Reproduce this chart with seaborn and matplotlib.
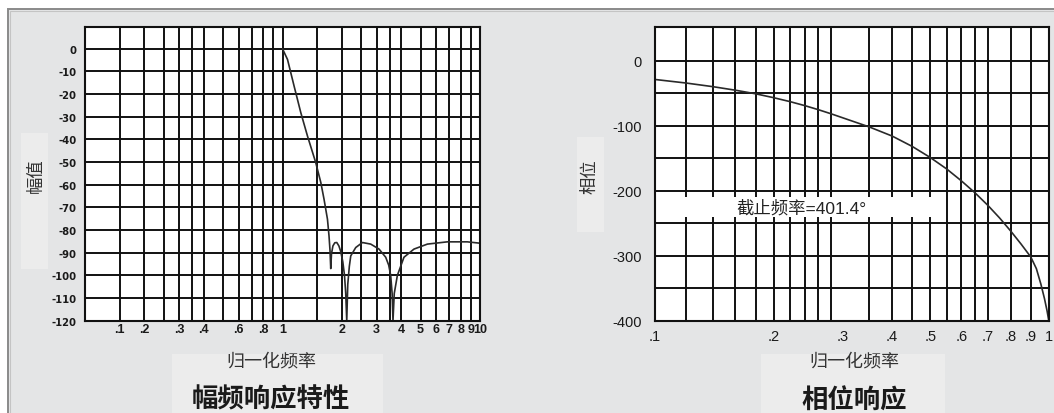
import matplotlib
matplotlib.use("Agg")
import matplotlib.pyplot as plt
import seaborn as sns
from matplotlib import font_manager
from matplotlib.patches import Rectangle
from matplotlib.ticker import NullFormatter

# magnitude response: normalised frequency vs amplitude (dB)
mag_freq = [1.0, 1.06, 1.145, 1.238, 1.338, 1.473, 1.563, 1.623, 1.689, 1.72,
            1.74, 1.755, 1.77, 1.80, 1.84, 1.883, 1.93, 1.972, 2.02, 2.06,
            2.09, 2.115, 2.14, 2.18, 2.216, 2.349, 2.539, 2.797, 3.082, 3.331,
            3.45, 3.53, 3.59, 3.626, 3.68, 3.816, 4.121, 4.631, 5.413, 6.833,
            8.627, 10.0]
mag_db = [0, -4.7, -16.5, -28.2, -38.5, -50.2, -59, -66.4, -75.2, -82.6,
          -89, -97, -90.5, -87, -85.6, -85.5, -87, -89.5, -94, -100,
          -108, -120, -104, -96, -91.4, -87.7, -85.5, -86.2, -88.4, -92,
          -95.5, -100, -108, -120, -108, -100, -92, -88.4, -86.2, -85.2,
          -85.2, -85.8]
mag_ticks = [0.15, 0.2, 0.3, 0.4, 0.6, 0.8, 1, 2, 3, 4, 5, 6, 7, 8, 9, 10]
mag_tick_labels = [".1", ".2", ".3", ".4", ".6", ".8", "1", "2", "3", "4",
                   "5", "6", "7", "8", "9", "10"]
mag_grid = [0.15, 0.2, 0.25, 0.3, 0.35, 0.4, 0.5, 0.6, 0.7, 0.8, 0.9, 1,
            1.5, 2, 2.5, 3, 3.5, 4, 5, 6, 7, 8, 9]
mag_yticks = list(range(-120, 1, 10))

# phase response: normalised frequency vs phase (degrees)
phase_freq = [0.1, 0.12, 0.14, 0.16, 0.18, 0.2, 0.22, 0.24, 0.26, 0.28,
              0.35, 0.4, 0.45, 0.5, 0.55, 0.6, 0.65, 0.7, 0.75, 0.8,
              0.85, 0.9, 0.93, 0.955, 0.975, 0.99, 1.0]
phase_deg = [-29, -34.5, -40, -45.5, -51, -57, -63, -69.2, -75.5, -81.8,
             -102, -116, -132, -149, -166.5, -185, -203.5, -222.5, -242, -262,
             -282, -302, -320, -344, -366, -385, -400]
phase_ticks = [0.1, 0.2, 0.3, 0.4, 0.5, 0.6, 0.7, 0.8, 0.9, 1.0]
phase_tick_labels = [".1", ".2", ".3", ".4", ".5", ".6", ".7", ".8", ".9", "1"]
phase_grid = [0.12, 0.14, 0.16, 0.18, 0.2, 0.22, 0.24, 0.26, 0.28, 0.35,
              0.4, 0.45, 0.5, 0.55, 0.6, 0.65, 0.7, 0.8, 0.9]
phase_yticks = [-400, -300, -200, -100, 0]
phase_ygrid = [-350, -300, -250, -200, -150, -100, -50, 0]
cutoff_label = "截止频率=401.4°"

W, H = 1054, 414
BG = "#e4e5e6"
LIGHT = "#ececec"
INK = "#111111"

sns.set_style("white")
plt.rcParams["font.family"] = ["Liberation Sans", "Noto Sans CJK SC", "DejaVu Sans"]
CJK = ["Noto Sans CJK SC", "DejaVu Sans"]

names = {f.name for f in font_manager.fontManager.ttflist}
if "Liberation Sans Narrow" in names:
    narrow = dict(fontfamily="Liberation Sans Narrow", fontweight="bold", fontsize=9.5)
else:
    narrow = dict(fontfamily="DejaVu Sans", fontweight="bold", fontstretch="condensed", fontsize=8)


def fx(px):
    return px / W


def fy(py):
    return 1 - py / H


def px_rect(x0, y0, x1, y1, **kw):
    return Rectangle((fx(x0), fy(y1)), fx(x1) - fx(x0), fy(y0) - fy(y1),
                     transform=fig.transFigure, **kw)


fig = plt.figure(figsize=(W / 100, H / 100), dpi=100, facecolor="white")

# panel background with its grey border
fig.add_artist(px_rect(7.5, 9.5, W + 20, H + 20, facecolor=BG, edgecolor="#8a8a8a",
                       lw=1.4, zorder=-10))
fig.add_artist(px_rect(10, 12, W + 20, H + 20, facecolor="none", edgecolor="#c4c4c4",
                       lw=0.8, zorder=-9))
# slightly lighter label boxes
for box in [(21, 134, 48, 270), (172, 355, 383, H + 5),
            (577, 138, 604, 233), (761, 355, 945, H + 5)]:
    fig.add_artist(px_rect(*box, facecolor=LIGHT, edgecolor="none", zorder=-8))

ax1 = fig.add_axes([fx(85), fy(321.7), fx(480) - fx(85), fy(27.8) - fy(321.7)])
ax2 = fig.add_axes([fx(655), fy(321.7), fx(1048.8) - fx(655), fy(27.8) - fy(321.7)])

sns.lineplot(x=mag_freq, y=mag_db, ax=ax1, color="#2a2a2a", lw=1.2, estimator=None)
sns.lineplot(x=phase_freq, y=phase_deg, ax=ax2, color="#2a2a2a", lw=1.2, estimator=None)

for ax in (ax1, ax2):
    ax.set_xscale("log")
    ax.set_facecolor("white")
    ax.set_axisbelow(True)
    ax.xaxis.remove_overlapping_locs = False
    ax.yaxis.remove_overlapping_locs = False
    for sp in ax.spines.values():
        sp.set_visible(True)
        sp.set_color(INK)
        sp.set_linewidth(1.5)
    ax.set_xlabel("")
    ax.set_ylabel("")

# magnitude axes
ax1.set_xlim(0.1, 10)
ax1.set_ylim(-120, 9.7)
ax1.set_xticks(mag_grid, minor=True)
ax1.xaxis.set_minor_formatter(NullFormatter())
ax1.set_xticks(mag_ticks, mag_tick_labels, fontsize=9, fontweight="bold", color="#1a1a1a")
ax1.set_yticks(mag_yticks, [str(v) for v in mag_yticks], color="#1a1a1a", **narrow)
ax1.xaxis.grid(True, which="minor", color=INK, lw=1.4)
ax1.yaxis.grid(True, which="major", color=INK, lw=1.4)
ax1.tick_params(axis="x", which="both", length=0, pad=2)
ax1.tick_params(axis="y", which="both", length=0, pad=6)

# phase axes
ax2.set_xlim(0.1, 1.0)
ax2.set_ylim(-400, 52)
ax2.set_xticks(phase_grid, minor=True)
ax2.xaxis.set_minor_formatter(NullFormatter())
ax2.set_xticks(phase_ticks, phase_tick_labels, fontsize=10.5, color="#1a1a1a")
ax2.set_yticks(phase_ygrid, minor=True)
ax2.set_yticks(phase_yticks, [str(v) for v in phase_yticks], fontsize=10.5, color="#1a1a1a")
ax2.xaxis.grid(True, which="minor", color=INK, lw=1.4)
ax2.yaxis.grid(True, which="minor", color=INK, lw=1.4)
ax2.tick_params(axis="x", which="both", length=0, pad=6)
ax2.tick_params(axis="y", which="both", length=0, pad=9.5)

# cutoff annotation on a white band
ax2.add_patch(Rectangle((0.1, -240), 0.524 - 0.1, 30, facecolor="white",
                        edgecolor="none", zorder=1))
ax2.text(0.2355, -226, cutoff_label, ha="center", va="center", fontsize=12.5,
         color="#222222", zorder=3)

# axis labels and titles
fig.text(fx(36), fy(176), "幅值", rotation=90, ha="center", va="center",
         fontsize=12.5, color="#333333", family=CJK)
fig.text(fx(589), fy(177), "相位", rotation=90, ha="center", va="center",
         fontsize=12.5, color="#333333", family=CJK)
fig.text(fx(271), fy(362), "归一化频率", ha="center", va="center",
         fontsize=13, color="#333333", family=CJK)
fig.text(fx(854), fy(362), "归一化频率", ha="center", va="center",
         fontsize=13, color="#333333", family=CJK)
fig.text(fx(271), fy(400), "幅频响应特性", ha="center", va="center",
         fontsize=19, fontweight="bold", color="#1a1a1a", family=CJK)
fig.text(fx(854), fy(401), "相位响应", ha="center", va="center",
         fontsize=19, fontweight="bold", color="#1a1a1a", family=CJK)

fig.savefig("out.png", dpi=100, facecolor=fig.get_facecolor())
plt.close(fig)
